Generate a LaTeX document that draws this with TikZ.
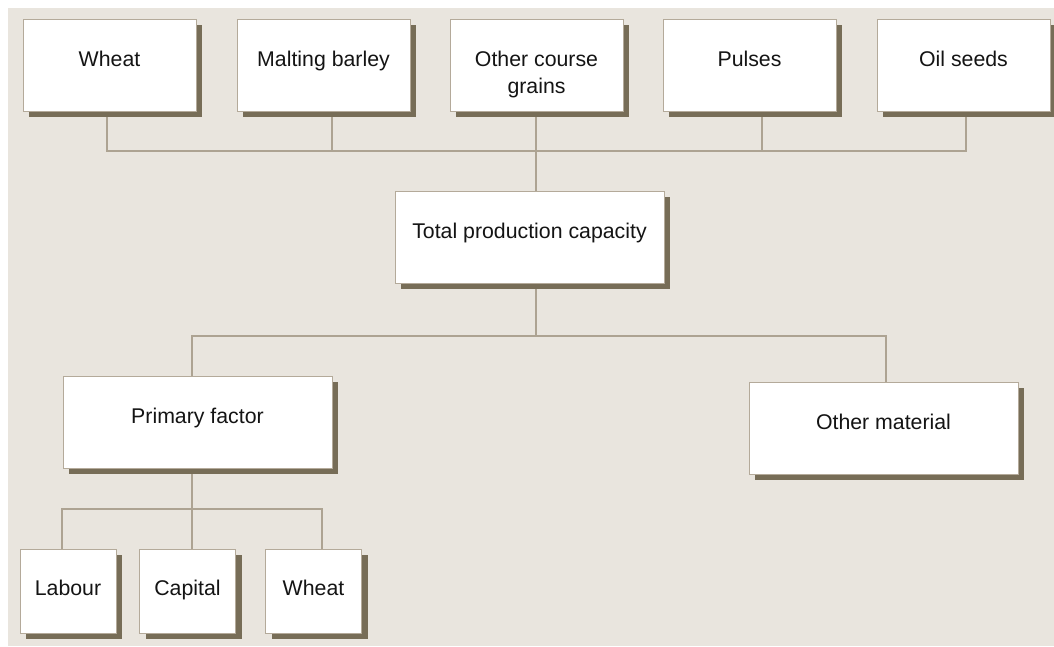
\documentclass[tikz,border=0pt]{standalone}
\usepackage{fontspec}
\setmainfont{Liberation Sans}
\usetikzlibrary{shadows,backgrounds}

\definecolor{paper}{HTML}{E9E5DE}
\definecolor{edge}{HTML}{B4AA9A}
\definecolor{shade}{HTML}{776D57}
\definecolor{wire}{HTML}{ADA392}
\definecolor{ink}{HTML}{141414}

\begin{document}
\begin{tikzpicture}[x=1pt,y=-1pt,
  box/.style={draw=edge, line width=1pt, fill=white, inner sep=0pt,
    drop shadow={shadow xshift=6pt, shadow yshift=-6pt, fill=shade, opacity=1}},
  crop/.style={box, minimum width=173pt, minimum height=92pt},
  factor/.style={box, minimum width=269pt, minimum height=92pt},
  input/.style={box, minimum width=96pt, minimum height=84pt},
  lbl/.style={anchor=north, inner sep=0pt, align=center,
    font=\fontsize{21.3}{27}\selectfont, text=ink},
  conn/.style={draw=wire, line width=1.2pt}]

\useasboundingbox (0,0) rectangle (1054,646);
\begin{pgfonlayer}{background}
  \fill[paper] (8,8) rectangle (1054,646);
\end{pgfonlayer}

% crops
\node[crop] (wheat)  at (109.5,65) {};
\node[crop] (barley) at (323.5,65) {};
\node[crop] (grains) at (536.5,65) {};
\node[crop] (pulses) at (749.5,65) {};
\node[crop] (oil)    at (963.5,65) {};
\node[lbl] (wheat-t)  at ([yshift=-32.5pt]wheat.north)  {Wheat};
\node[lbl] (barley-t) at ([yshift=-32.5pt]barley.north) {Malting barley};
\node[lbl] (grains-t) at ([yshift=-32.5pt]grains.north) {Other course\\grains};
\node[lbl] (pulses-t) at ([yshift=-32.5pt]pulses.north) {Pulses};
\node[lbl] (oil-t)    at ([yshift=-32.5pt]oil.north)    {Oil seeds};

% capacity and its factors
\node[factor] (total)   at (529.5,237) {};
\node[factor] (primary) at (197.5,422) {};
\node[factor] (other)   at (883.5,428) {};
\node[lbl] (total-t)   at ([yshift=-32.5pt]total.north)   {Total production capacity};
\node[lbl] (primary-t) at ([yshift=-32.5pt]primary.north) {Primary factor};
\node[lbl] (other-t)   at ([yshift=-32.5pt]other.north)   {Other material};

% primary inputs
\node[input] (labour)  at (68,591)    {};
\node[input] (capital) at (187.5,591) {};
\node[input] (wheatb)  at (313.5,591) {};
\node[lbl] (labour-t)  at ([yshift=-31.5pt]labour.north)  {Labour};
\node[lbl] (capital-t) at ([yshift=-31.5pt]capital.north) {Capital};
\node[lbl] (wheatb-t)  at ([yshift=-31.5pt]wheatb.north)  {Wheat};

% junctions of the connector buses
\coordinate (jW) at (107,151);
\coordinate (jB) at (332,151);
\coordinate (jG) at (536,151);
\coordinate (jP) at (762,151);
\coordinate (jO) at (966,151);
\coordinate (kT) at (536,336);
\coordinate (kP) at (192,336);
\coordinate (kO) at (886,336);
\coordinate (lL) at (62,509);
\coordinate (lC) at (192,509);
\coordinate (lW) at (322,509);

\begin{pgfonlayer}{background}
  \draw[conn] (wheat.south -| jW) -- (jW) -- (jO) -- (oil.south -| jO);
  \draw[conn] (barley.south -| jB) -- (jB);
  \draw[conn] (pulses.south -| jP) -- (jP);
  \draw[conn] (grains.south -| jG) -- (total.north -| jG);
  \draw[conn] (total.south -| kT) -- (kT);
  \draw[conn] (primary.north -| kP) -- (kP) -- (kO) -- (other.north -| kO);
  \draw[conn] (labour.north -| lL) -- (lL) -- (lW) -- (wheatb.north -| lW);
  \draw[conn] (primary.south -| lC) -- (capital.north -| lC);
\end{pgfonlayer}
\end{tikzpicture}
\end{document}
